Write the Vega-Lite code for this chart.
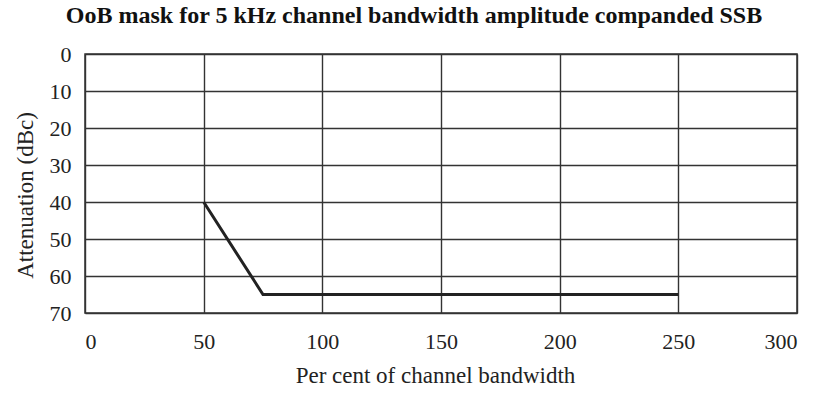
{
  "$schema": "https://vega.github.io/schema/vega-lite/v6.json",
  "autosize": {"type": "none"},
  "width": 712,
  "height": 259,
  "padding": {"left": 85, "top": 54, "right": 21, "bottom": 81},
  "background": "white",
  "title": {
    "text": "OoB mask for 5 kHz channel bandwidth amplitude companded SSB",
    "font": "Liberation Serif",
    "fontSize": 24,
    "fontWeight": "bold",
    "color": "#111",
    "anchor": "middle",
    "offset": 15,
    "dx": -27
  },
  "config": {
    "view": {"stroke": "#333", "strokeWidth": 1.5},
    "axis": {
      "labelFont": "Liberation Serif",
      "titleFont": "Liberation Serif",
      "labelFontSize": 22,
      "titleFontSize": 23,
      "labelColor": "#222",
      "titleColor": "#222",
      "titleFontWeight": "normal",
      "gridColor": "#333",
      "gridWidth": 1.4,
      "gridOpacity": 1,
      "domain": false,
      "ticks": false
    }
  },
  "data": {
    "values": [
      {"pct": 50, "att": 40},
      {"pct": 75, "att": 65},
      {"pct": 250, "att": 65}
    ]
  },
  "mark": {"type": "line", "color": "#222", "strokeWidth": 3},
  "encoding": {
    "x": {
      "field": "pct",
      "type": "quantitative",
      "title": "Per cent of channel bandwidth",
      "scale": {"domain": [0, 300], "nice": false},
      "axis": {
        "values": [0, 50, 100, 150, 200, 250, 300],
        "labelBaseline": "alphabetic",
        "labelPadding": 35,
        "titleBaseline": "alphabetic",
        "titleAlign": "center",
        "titleX": 350,
        "titleY": 69
      }
    },
    "y": {
      "field": "att",
      "type": "quantitative",
      "title": "Attenuation (dBc)",
      "scale": {"domain": [0, 70], "reverse": true, "nice": false},
      "axis": {
        "values": [0, 10, 20, 30, 40, 50, 60, 70],
        "labelPadding": 14,
        "titleBaseline": "alphabetic",
        "titleAlign": "center",
        "titleAngle": -90,
        "titleX": -53,
        "titleY": 141
      }
    }
  }
}
